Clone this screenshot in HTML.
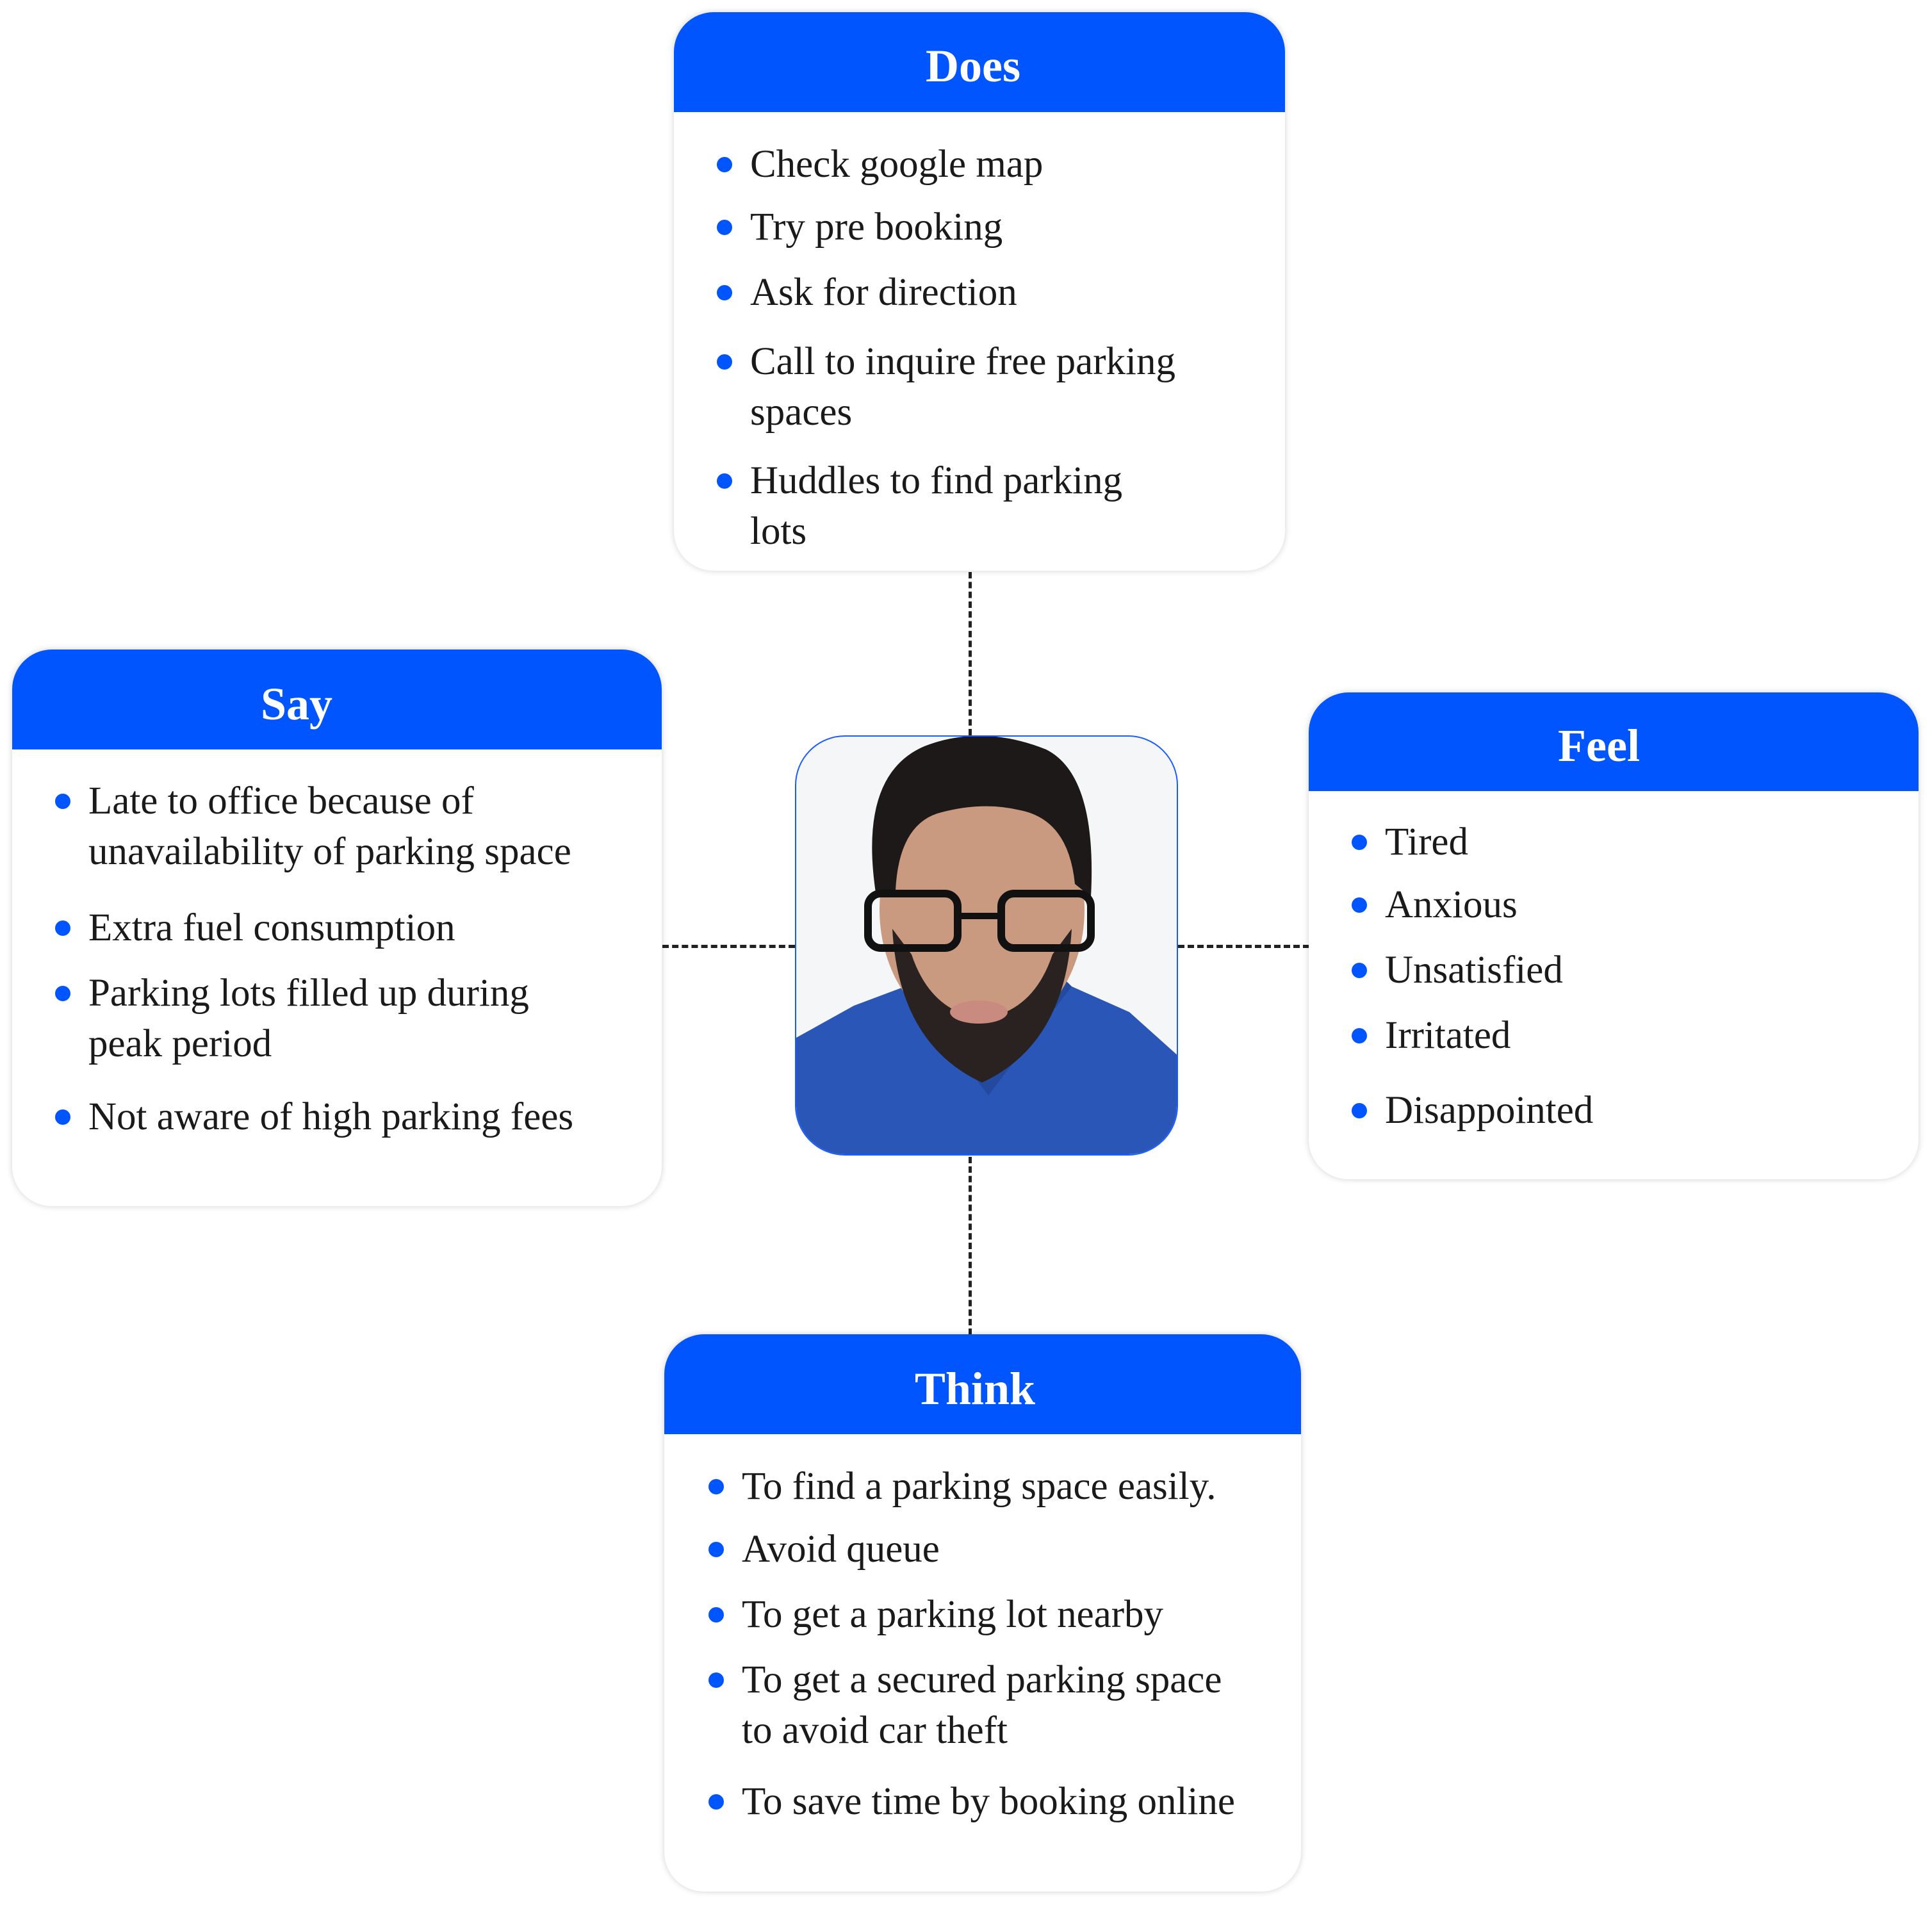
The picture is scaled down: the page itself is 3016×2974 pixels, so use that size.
<!DOCTYPE html>
<html><head><meta charset="utf-8">
<style>
html,body{margin:0;padding:0;background:#fff;}
body{width:3016px;height:2974px;position:relative;overflow:hidden;font-family:"Liberation Serif",serif;}
.box{position:absolute;background:#fff;border-radius:62px;box-shadow:0 0 10px rgba(0,0,0,0.18);overflow:hidden;}
.hd{position:absolute;left:0;right:0;top:0;background:#0055ff;color:#fff;font-weight:bold;font-size:72px;text-align:center;box-sizing:border-box;}
.it{position:absolute;font-size:61px;line-height:79px;color:#1a1a1a;white-space:nowrap;}
.it::before{content:"";position:absolute;left:-52px;top:28px;width:24px;height:24px;border-radius:50%;background:#0055ff;}
.v{position:absolute;width:0;border-left:5px dashed #222;}
.h{position:absolute;height:0;border-top:5px dashed #222;}
</style></head><body>

<div class="v" style="left:1512px;top:893px;height:255px"></div>
<div class="v" style="left:1512px;top:1806px;height:278px"></div>
<div class="h" style="left:1034px;top:1475px;width:207px"></div>
<div class="h" style="left:1839px;top:1475px;width:205px"></div>

<!-- Does -->
<div class="box" style="left:1052px;top:19px;width:954px;height:872px">
  <div class="hd" style="height:156px;line-height:168px;padding-right:20px">Does</div>
  <div class="it" style="left:119px;top:198px">Check google map</div>
  <div class="it" style="left:119px;top:296px">Try pre booking</div>
  <div class="it" style="left:119px;top:398px">Ask for direction</div>
  <div class="it" style="left:119px;top:506px">Call to inquire free parking<br>spaces</div>
  <div class="it" style="left:119px;top:692px">Huddles to find parking<br>lots</div>
</div>

<!-- Say -->
<div class="box" style="left:19px;top:1014px;width:1014px;height:869px">
  <div class="hd" style="height:156px;line-height:170px;padding-right:126px">Say</div>
  <div class="it" style="left:119px;top:197px">Late to office because of<br>unavailability of parking space</div>
  <div class="it" style="left:119px;top:395px">Extra fuel consumption</div>
  <div class="it" style="left:119px;top:497px">Parking lots filled up during<br>peak period</div>
  <div class="it" style="left:119px;top:690px">Not aware of high parking fees</div>
</div>

<!-- Feel -->
<div class="box" style="left:2043px;top:1081px;width:952px;height:760px">
  <div class="hd" style="height:154px;line-height:166px;padding-right:46px">Feel</div>
  <div class="it" style="left:119px;top:194px">Tired</div>
  <div class="it" style="left:119px;top:292px">Anxious</div>
  <div class="it" style="left:119px;top:394px">Unsatisfied</div>
  <div class="it" style="left:119px;top:496px">Irritated</div>
  <div class="it" style="left:119px;top:613px">Disappointed</div>
</div>

<!-- Think -->
<div class="box" style="left:1037px;top:2083px;width:994px;height:870px">
  <div class="hd" style="height:156px;line-height:170px;padding-right:24px">Think</div>
  <div class="it" style="left:121px;top:198px">To find a parking space easily.</div>
  <div class="it" style="left:121px;top:296px">Avoid queue</div>
  <div class="it" style="left:121px;top:398px">To get a parking lot nearby</div>
  <div class="it" style="left:121px;top:500px">To get a secured parking space<br>to avoid car theft</div>
  <div class="it" style="left:121px;top:690px">To save time by booking online</div>
</div>

<!-- Photo -->
<div style="position:absolute;left:1241px;top:1148px;width:598px;height:656px;border:2px solid #1a5cff;border-radius:78px;overflow:hidden;background:#f4f6f8;box-sizing:border-box">
<svg width="598" height="656" viewBox="0 0 598 656">
  <path d="M0 470 L90 420 L170 390 L300 470 L430 390 L520 430 L598 500 L598 656 L0 656 Z" fill="#2a56b8"/>
  <path d="M170 390 L300 560 L430 390 L400 360 L300 470 L200 360 Z" fill="#234a9e"/>
  <ellipse cx="290" cy="270" rx="160" ry="200" fill="#c99a80"/>
  <path d="M150 300 Q160 480 290 540 Q420 480 430 300 L400 340 Q370 430 290 440 Q210 430 180 340 Z" fill="#2a2220"/>
  <path d="M125 250 Q95 60 200 15 Q290 -20 390 20 Q470 60 460 250 L435 230 Q425 130 350 115 Q290 100 220 120 Q160 140 155 240 Z" fill="#1c1918"/>
  <rect x="112" y="245" width="140" height="85" rx="20" fill="none" stroke="#111" stroke-width="12"/>
  <rect x="320" y="245" width="140" height="85" rx="20" fill="none" stroke="#111" stroke-width="12"/>
  <line x1="252" y1="280" x2="320" y2="280" stroke="#111" stroke-width="10"/>
  <ellipse cx="285" cy="430" rx="45" ry="18" fill="#c98a80"/>
</svg>
</div>

</body></html>
